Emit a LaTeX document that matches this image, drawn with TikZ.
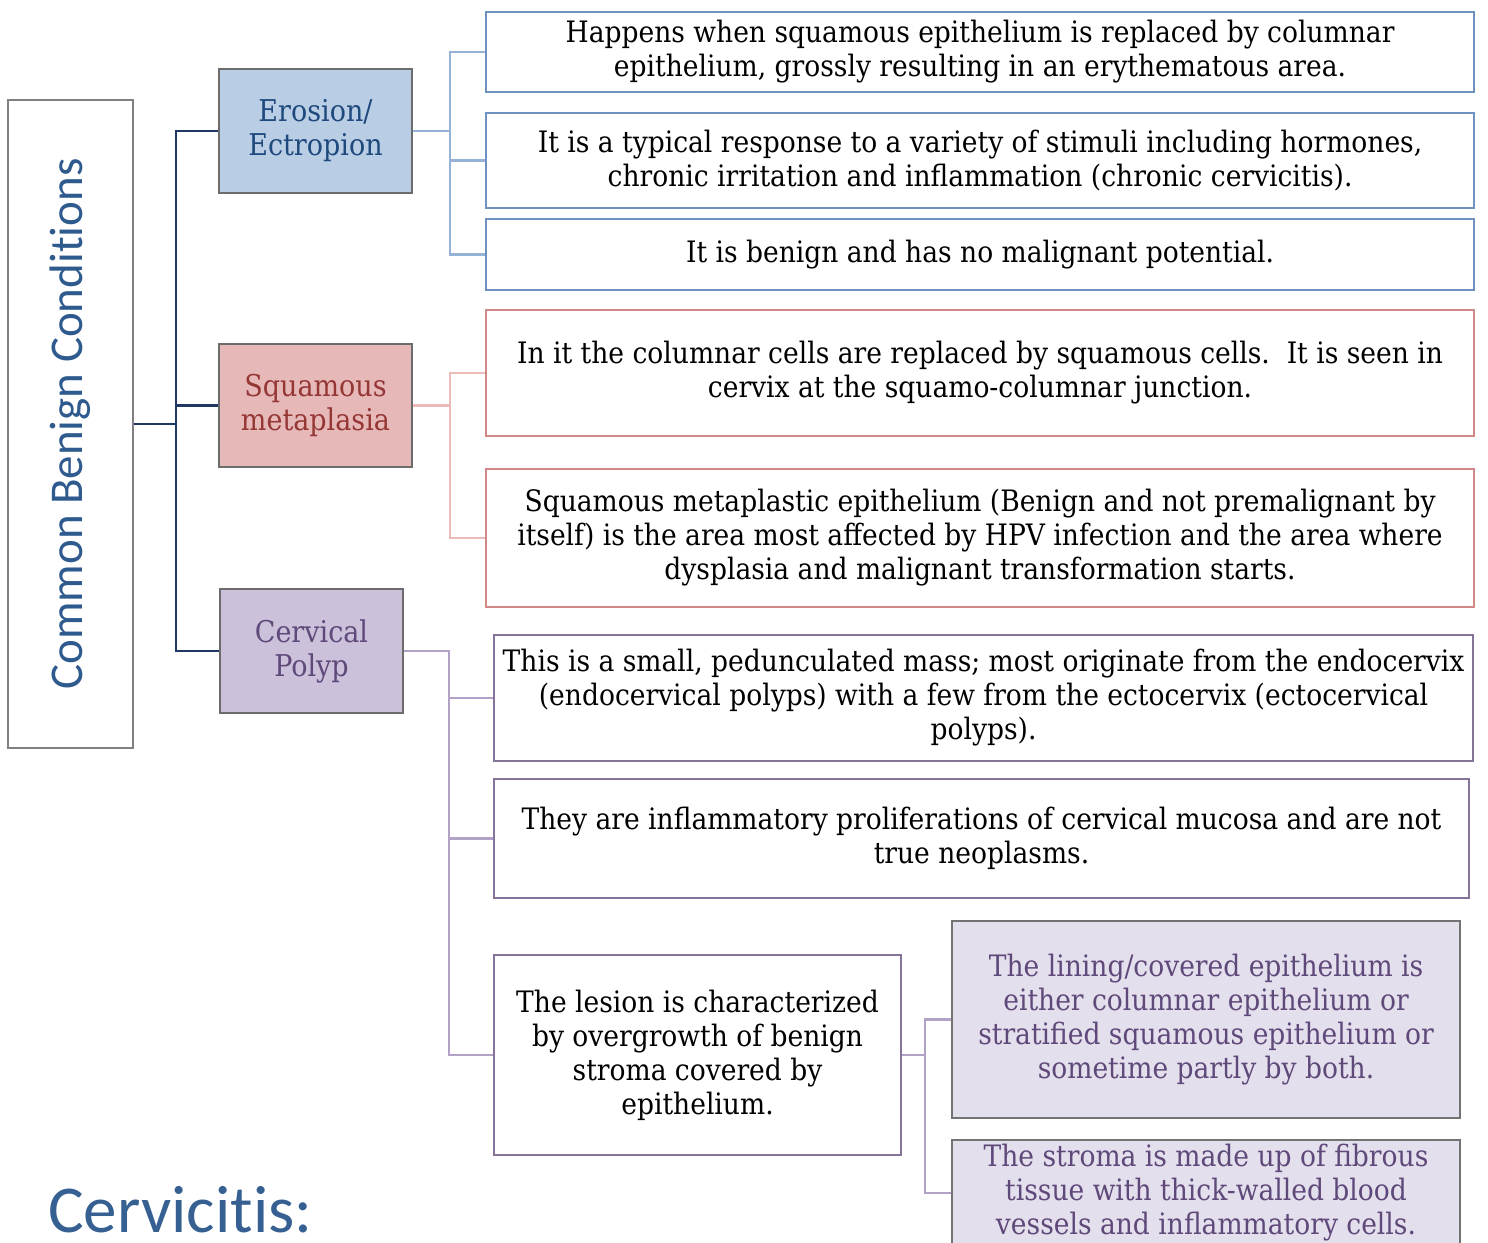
\documentclass[tikz,border=0pt]{standalone}
\usepackage{fontspec}
\setmainfont{DejaVu Serif Condensed}
\newfontfamily\calib[Ligatures=NoCommon]{Carlito}
\definecolor{navyline}{HTML}{1F3864}
\definecolor{blueline}{HTML}{95B3D7}
\definecolor{pinkline}{HTML}{EBBAB9}
\definecolor{purpline}{HTML}{B3A2C7}
\definecolor{bluebd}{HTML}{6F91C2}
\definecolor{pinkbd}{HTML}{D08886}
\definecolor{purpbd}{HTML}{857399}
\definecolor{erofill}{HTML}{B9CDE5}
\definecolor{erotext}{HTML}{1F497D}
\definecolor{sqfill}{HTML}{E6B9B8}
\definecolor{sqtext}{HTML}{953735}
\definecolor{polfill}{HTML}{CCC1DA}
\definecolor{poltext}{HTML}{5F497A}
\definecolor{lightpurp}{HTML}{E4DFEC}
\definecolor{cbctext}{HTML}{2E5A8E}
\definecolor{cervtext}{HTML}{366092}
\tikzset{
  leaf/.style={draw=#1, line width=2pt, fill=white, inner sep=0pt, align=center,
    font=\fontsize{29.5}{34}\selectfont, text=black},
  catbox/.style={draw=gray!85!black, line width=1.2pt, inner sep=0pt, align=center,
    font=\fontsize{30}{34}\selectfont},
  conn/.style={line width=2.8pt, draw=#1},
}
\begin{document}
\begin{tikzpicture}[x=1pt,y=-1pt]
\useasboundingbox (0,0) rectangle (1488,1242);
\clip (0,0) rectangle (1488,1242);
% left title box
\node[draw=gray, line width=1.2pt, minimum width=125pt, minimum height=648pt, inner sep=0pt] (cbc) at (70.5,424) {};
\node[rotate=90, font=\calib\fontsize{47}{50}\selectfont, text=cbctext] (cbct) at (cbc.center) {Common Benign Conditions};
% categories
\node[catbox, fill=erofill, text=erotext, minimum width=193pt, minimum height=124pt] (ero) at (315.5,131) {Erosion/\\Ectropion};
\node[catbox, fill=sqfill, text=sqtext, minimum width=193pt, minimum height=123pt] (sq) at (315.5,405.5) {Squamous\\metaplasia};
\node[catbox, fill=polfill, text=poltext, minimum width=183pt, minimum height=124pt] (pol) at (311.5,651) {Cervical\\Polyp};
% erosion leaves
\node[leaf=bluebd, minimum width=988pt, minimum height=80pt] (e1) at (980,52) {Happens when squamous epithelium is replaced by columnar\\epithelium, grossly resulting in an erythematous area.};
\node[leaf=bluebd, minimum width=988pt, minimum height=95pt] (e2) at (980,160.5) {It is a typical response to a variety of stimuli including hormones,\\chronic irritation and inflammation (chronic cervicitis).};
\node[leaf=bluebd, minimum width=988pt, minimum height=71pt] (e3) at (980,254.5) {It is benign and has no malignant potential.};
% squamous leaves
\node[leaf=pinkbd, minimum width=988pt, minimum height=126pt] (s1) at (980,373) {In it the columnar cells are replaced by squamous cells.\ \ It is seen in\\cervix at the squamo-columnar junction.};
\node[leaf=pinkbd, minimum width=988pt, minimum height=138pt] (s2) at (980,538) {Squamous metaplastic epithelium (Benign and not premalignant by\\itself) is the area most affected by HPV infection and the area where\\dysplasia and malignant transformation starts.};
% polyp leaves
\node[leaf=purpbd, minimum width=979pt, minimum height=126pt] (p1) at (983.5,698) {This is a small, pedunculated mass; most originate from the endocervix\\(endocervical polyps) with a few from the ectocervix (ectocervical\\polyps).};
\node[leaf=purpbd, minimum width=975pt, minimum height=119pt] (p2) at (981.5,838.5) {They are inflammatory proliferations of cervical mucosa and are not\\true neoplasms.};
\node[leaf=purpbd, minimum width=407pt, minimum height=200pt] (p3) at (697.5,1055) {The lesion is characterized\\by overgrowth of benign\\stroma covered by\\epithelium.};
\node[leaf=gray!90!black, line width=1.2pt, fill=lightpurp, text=poltext, minimum width=508pt, minimum height=197pt] (q1) at (1206,1019.5) {The lining/covered epithelium is\\either columnar epithelium or\\stratified squamous epithelium or\\sometime partly by both.};
\node[leaf=gray!90!black, line width=1.2pt, fill=lightpurp, text=poltext, minimum width=508pt, minimum height=106pt] (q2) at (1206,1193) {The stroma is made up of fibrous\\tissue with thick-walled blood\\vessels and inflammatory cells.};
% bottom heading
\node[anchor=base west, inner sep=0pt, font=\calib\fontsize{67}{67}\selectfont, text=cervtext] (cv) at (48,1232) {Cervicitis:};
% junction coordinates
\coordinate (j0) at (176,0);
\coordinate (j1) at (450,0);
\coordinate (j2) at (450,0);
\coordinate (j3) at (449,0);
\coordinate (j4) at (925,0);
% connectors
\draw[conn=navyline] (cbc.east) -- (cbc.east -| j0);
\draw[conn=navyline] (ero.west) -| (j0 |- pol.west) -- (pol.west);
\draw[conn=navyline] (sq.west) -- (sq.west -| j0);
\draw[conn=blueline] (ero.east) -- (ero.east -| j1);
\draw[conn=blueline] (e1.west) -| (j1 |- e3.west) -- (e3.west);
\draw[conn=blueline] (e2.west) -- (e2.west -| j1);
\draw[conn=pinkline] (sq.east) -- (sq.east -| j2);
\draw[conn=pinkline] (s1.west) -| (j2 |- s2.west) -- (s2.west);
\draw[conn=purpline] (pol.east) -| (j3 |- p3.west) -- (p3.west);
\draw[conn=purpline] (p1.west) -- (p1.west -| j3);
\draw[conn=purpline] (p2.west) -- (p2.west -| j3);
\draw[conn=purpline] (p3.east) -- (p3.east -| j4);
\draw[conn=purpline] (q1.west) -| (j4 |- q2.west) -- (q2.west);
\end{tikzpicture}
\end{document}
